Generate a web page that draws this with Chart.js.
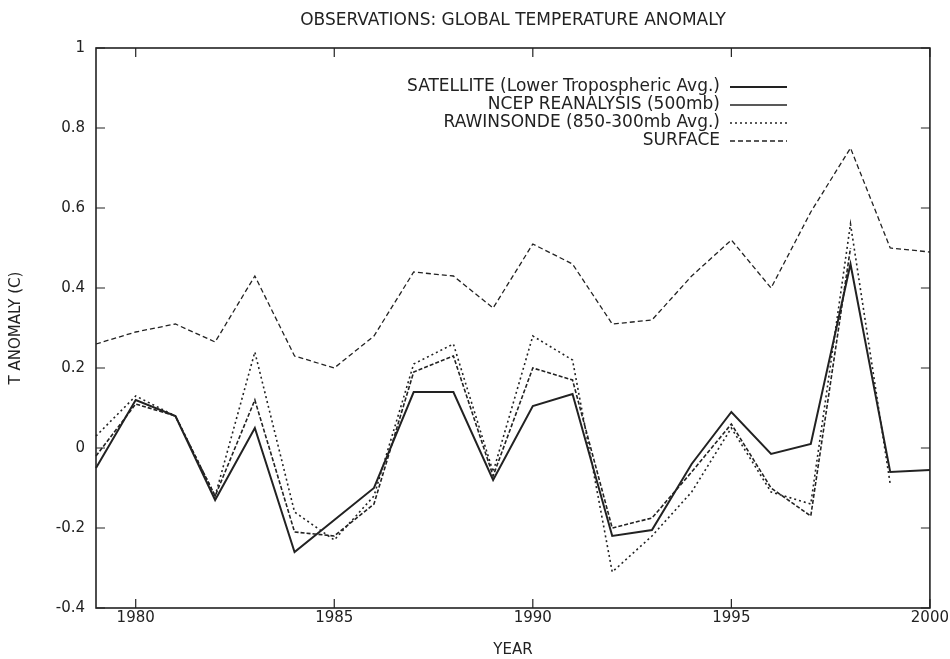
<!DOCTYPE html>
<html>
<head>
<meta charset="utf-8">
<script src="https://cdn.jsdelivr.net/npm/chart.js@4.4.1/dist/chart.umd.min.js"></script>
<style>
html, body { margin: 0; padding: 0; background: #fff; }
#wrap { width: 950px; height: 659px; }
</style>
</head>
<body>
<div id="wrap"><canvas id="anomaly-chart" width="950" height="659"></canvas></div>
<script>
var years = [1979, 1980, 1981, 1982, 1983, 1984, 1985, 1986, 1987, 1988, 1989,
             1990, 1991, 1992, 1993, 1994, 1995, 1996, 1997, 1998, 1999, 2000];

var satellite  = [-0.05, 0.12, 0.08, -0.13, 0.05, -0.26, -0.18, -0.10, 0.14, 0.14, -0.08,
                  0.105, 0.135, -0.22, -0.205, -0.04, 0.09, -0.015, 0.01, 0.46, -0.06, -0.055];
var ncep       = [-0.02, 0.11, 0.08, -0.12, 0.12, -0.21, -0.22, -0.14, 0.19, 0.23, -0.07,
                  0.20, 0.17, -0.20, -0.175, -0.06, 0.06, -0.10, -0.17, 0.50, null, null];
var rawinsonde = [0.03, 0.13, 0.08, -0.12, 0.24, -0.16, -0.23, -0.12, 0.21, 0.26, -0.06,
                  0.28, 0.22, -0.31, -0.22, -0.11, 0.05, -0.11, -0.14, 0.56, -0.09, null];
var surface    = [0.26, 0.29, 0.31, 0.265, 0.43, 0.23, 0.20, 0.28, 0.44, 0.43, 0.35,
                  0.51, 0.46, 0.31, 0.32, 0.43, 0.52, 0.40, 0.59, 0.75, 0.50, 0.49];

var seriesNames = ['SATELLITE (Lower Tropospheric Avg.)', 'NCEP REANALYSIS (500mb)',
                   'RAWINSONDE (850-300mb Avg.)', 'SURFACE'];
var yTicks = [-0.4, -0.2, 0, 0.2, 0.4, 0.6, 0.8, 1];
var xTickYears = [1980, 1985, 1990, 1995, 2000];

var ink = '#222';
var font = 'DejaVu Sans';

// gnuplot style box with inward ticks on all four sides
var framePlugin = {
    id: 'frame',
    afterDatasetsDraw: function (chart) {
        var ctx = chart.ctx, a = chart.chartArea;
        var xs = chart.scales.x, ys = chart.scales.y;
        var len = 9;
        ctx.save();
        ctx.strokeStyle = ink;
        ctx.lineWidth = 1.6;
        ctx.strokeRect(a.left, a.top, a.right - a.left, a.bottom - a.top);
        ctx.lineWidth = 1.2;
        ctx.beginPath();
        yTicks.forEach(function (v) {
            var py = ys.getPixelForValue(v);
            ctx.moveTo(a.left, py); ctx.lineTo(a.left + len, py);
            ctx.moveTo(a.right, py); ctx.lineTo(a.right - len, py);
        });
        xTickYears.forEach(function (yr) {
            var px = xs.getPixelForValue(years.indexOf(yr));
            ctx.moveTo(px, a.bottom); ctx.lineTo(px, a.bottom - len);
            ctx.moveTo(px, a.top); ctx.lineTo(px, a.top + len);
        });
        ctx.stroke();
        ctx.restore();
    }
};

// legend inside the plot, text right aligned, line sample on the right
var keyPlugin = {
    id: 'key',
    afterDraw: function (chart) {
        var ctx = chart.ctx;
        var textRight = 720, lineLeft = 730, lineRight = 787;
        var top = 87, step = 18;
        ctx.save();
        ctx.font = '17px "' + font + '"';
        ctx.fillStyle = ink;
        ctx.textAlign = 'right';
        ctx.textBaseline = 'middle';
        chart.data.datasets.forEach(function (ds, i) {
            var y = top + i * step;
            ctx.fillText(ds.label, textRight, y);
            ctx.strokeStyle = ink;
            ctx.lineWidth = ds.borderWidth;
            ctx.setLineDash(ds.keyDash || ds.borderDash || []);
            ctx.beginPath();
            ctx.moveTo(lineLeft, y);
            ctx.lineTo(lineRight, y);
            ctx.stroke();
        });
        ctx.restore();
    }
};

function makeChart() {
    var ctx = document.getElementById('anomaly-chart').getContext('2d');
    var config = {
        type: 'line',
        data: {
            labels: years,
            datasets: [
                { label: seriesNames[0], data: satellite, borderColor: ink, borderWidth: 2, borderDash: [] },
                { label: seriesNames[1], data: ncep, borderColor: ink, borderWidth: 1.6, borderDash: [4, 2], keyDash: [] },
                { label: seriesNames[2], data: rawinsonde, borderColor: ink, borderWidth: 1.6, borderDash: [2, 3] },
                { label: seriesNames[3], data: surface, borderColor: ink, borderWidth: 1.3, borderDash: [5, 3] }
            ]
        },
        options: {
            responsive: false,
            animation: false,
            devicePixelRatio: 1,
            layout: { padding: { top: 0, right: 20, bottom: 0, left: 0 } },
            elements: { point: { radius: 0 }, line: { tension: 0, fill: false } },
            plugins: {
                legend: { display: false },
                tooltip: { enabled: false },
                title: {
                    display: true,
                    fullSize: false,
                    text: 'OBSERVATIONS: GLOBAL TEMPERATURE ANOMALY',
                    color: ink,
                    font: { family: font, size: 17, weight: 'normal' },
                    padding: { top: 10, bottom: 17.6 }
                }
            },
            scales: {
                x: {
                    type: 'category',
                    offset: false,
                    grid: { display: false, drawTicks: false },
                    border: { display: false },
                    afterFit: function (scale) { scale.height = 51; },
                    ticks: {
                        autoSkip: false,
                        maxRotation: 0,
                        padding: 1,
                        color: ink,
                        font: { family: font, size: 15 },
                        callback: function (value, index) {
                            return years[index] % 5 === 0 ? String(years[index]) : null;
                        }
                    },
                    title: {
                        display: true,
                        text: 'YEAR',
                        color: ink,
                        font: { family: font, size: 15 },
                        padding: { top: 0, bottom: 0 }
                    }
                },
                y: {
                    min: -0.4,
                    max: 1,
                    grid: { display: false, drawTicks: false },
                    border: { display: false },
                    afterFit: function (scale) { scale.width = 96; },
                    afterBuildTicks: function (scale) {
                        scale.ticks = yTicks.map(function (v) { return { value: v }; });
                    },
                    ticks: {
                        padding: 11,
                        color: ink,
                        font: { family: font, size: 15 },
                        callback: function (value) {
                            if (Math.abs(value) < 1e-9) return '0';
                            return String(Math.round(value * 10) / 10);
                        }
                    },
                    title: {
                        display: true,
                        text: 'T ANOMALY (C)',
                        color: ink,
                        font: { family: font, size: 15 },
                        padding: { top: 7, bottom: 0 }
                    }
                }
            }
        },
        plugins: [framePlugin, keyPlugin]
    };
    return new Chart(ctx, config);
}

makeChart();
</script>
</body>
</html>
